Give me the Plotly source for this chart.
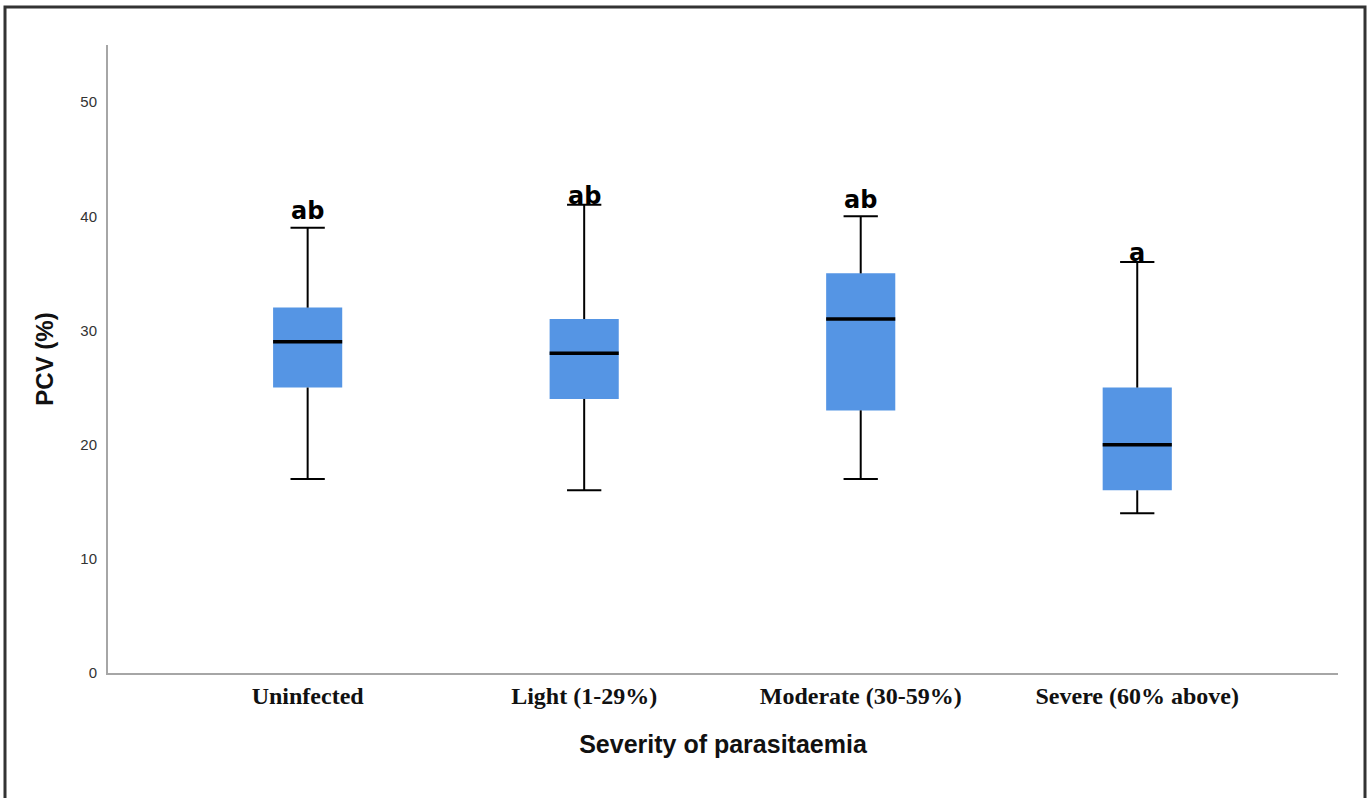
import plotly.graph_objects as go

# Summary statistics of PCV (%) by severity group
categories = ["Uninfected", "Light (1-29%)", "Moderate (30-59%)", "Severe (60% above)"]
lower_whisker = [17, 16, 17, 14]
q1 = [25, 24, 23, 16]
median = [29, 28, 31, 20]
q3 = [32, 31, 35, 25]
upper_whisker = [39, 41, 40, 36]
letters = ["ab", "ab", "ab", "a"]

y_ticks = [0, 10, 20, 30, 40, 50]

W, H = 1371, 798
ML, MR, MT, MB = 108, 33, 45, 125
pos = list(range(len(categories)))
box_w = 0.25
cap_half = 0.062
BLUE = "#5595e4"

fig = go.Figure()

# box bodies (Q1 to Q3)
fig.add_trace(go.Bar(
    x=pos, y=[b - a for a, b in zip(q1, q3)], base=q1, width=box_w,
    marker=dict(color=BLUE, line=dict(width=0)), hoverinfo="skip",
))

# whiskers and caps
wx, wy = [], []
for p, lo, a, b, hi in zip(pos, lower_whisker, q1, q3, upper_whisker):
    wx += [p, p, None, p, p, None]
    wy += [lo, a, None, b, hi, None]
    wx += [p - cap_half, p + cap_half, None, p - cap_half, p + cap_half, None]
    wy += [lo, lo, None, hi, hi, None]
fig.add_trace(go.Scatter(x=wx, y=wy, mode="lines",
                         line=dict(color="black", width=2), hoverinfo="skip"))

# medians
mx, my = [], []
for p, m in zip(pos, median):
    mx += [p - box_w / 2, p + box_w / 2, None]
    my += [m, m, None]
fig.add_trace(go.Scatter(x=mx, y=my, mode="lines",
                         line=dict(color="black", width=3.5), hoverinfo="skip"))

# significance letters above the upper whiskers
letter_offset = [1.5, 0.8, 1.4, 0.8]
for p, hi, t, off in zip(pos, upper_whisker, letters, letter_offset):
    fig.add_annotation(x=p, y=hi + off, text="<b>%s</b>" % t, showarrow=False,
                       yanchor="middle", xanchor="center",
                       font=dict(family="DejaVu Sans", size=24, color="black"))

# outer frame
pw = W - ML - MR
ph = H - MT - MB
fig.add_shape(type="rect", xref="paper", yref="paper",
              x0=(5 - ML) / pw, x1=(1365 - ML) / pw,
              y0=(MT + ph - 805) / ph, y1=(MT + ph - 7) / ph,
              line=dict(color="#333333", width=3), fillcolor="rgba(0,0,0,0)",
              layer="above")

fig.update_layout(
    width=W, height=H,
    margin=dict(l=ML, r=MR, t=MT, b=MB),
    paper_bgcolor="white", plot_bgcolor="white",
    showlegend=False,
    xaxis=dict(
        range=[-0.722, 3.726], tickmode="array", tickvals=pos,
        ticktext=["<b>%s</b>" % c for c in categories],
        showgrid=False, zeroline=False, showline=True, linecolor="#a6a6a6", linewidth=2,
        ticks="", tickfont=dict(family="Liberation Serif", size=24, color="#111111"),
        title=dict(text="<b>Severity of parasitaemia</b>", standoff=28,
                   font=dict(family="Liberation Sans", size=25, color="#111111")),
    ),
    yaxis=dict(
        range=[0, 55], tickmode="array", tickvals=y_ticks,
        showgrid=False, zeroline=False, showline=True, linecolor="#a6a6a6", linewidth=2,
        ticks="", ticklabelstandoff=6,
        tickfont=dict(family="Liberation Sans", size=15, color="#333333"),
        title=dict(text="<b>PCV (%)</b>", standoff=20,
                   font=dict(family="Liberation Sans", size=24, color="#111111")),
    ),
)

fig.write_html("out.html")
